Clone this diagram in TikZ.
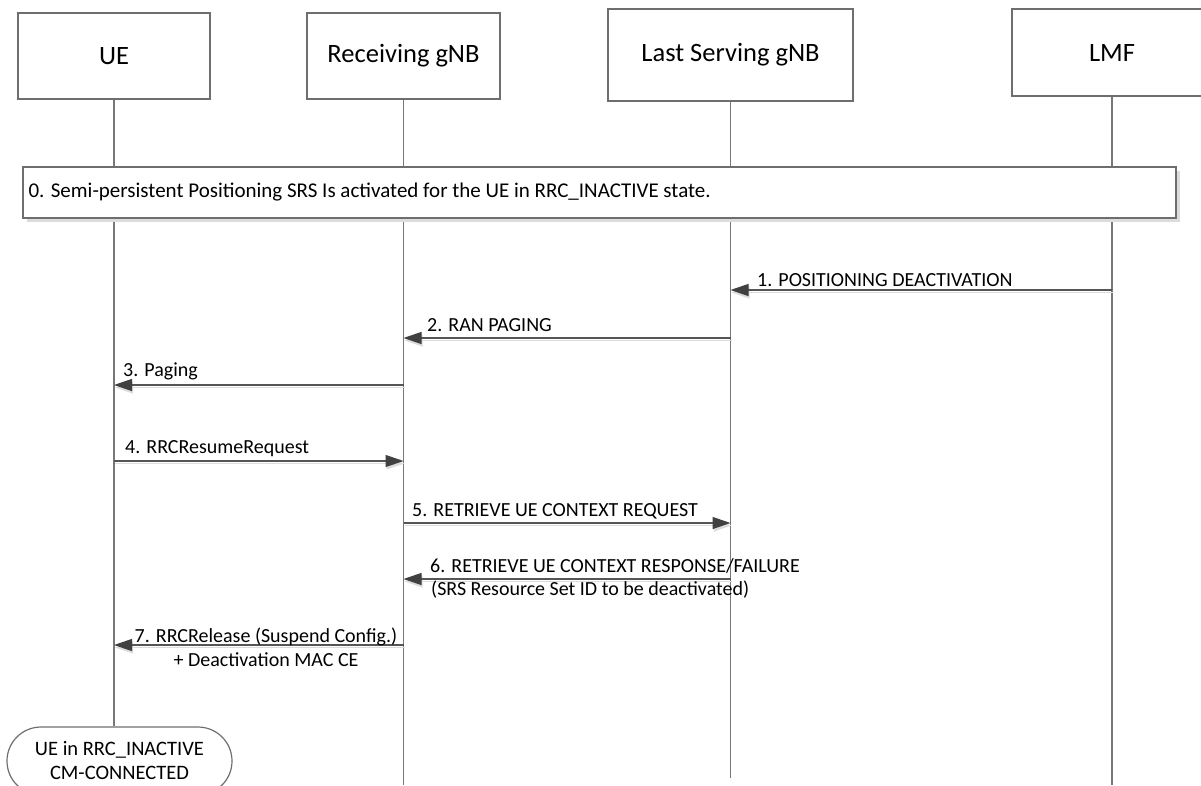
\documentclass[tikz,border=0pt]{standalone}
\usepackage{fontspec}
\setmainfont{Carlito}
\usetikzlibrary{arrows.meta,shapes.misc}
\definecolor{boxline}{HTML}{6E6E6E}
\definecolor{lifec}{HTML}{777777}
\definecolor{msgc}{HTML}{555555}
\definecolor{tipc}{HTML}{404040}
\definecolor{shadowc}{HTML}{DCDCDC}
\begin{document}
\begin{tikzpicture}[x=1pt,y=-1pt,
  every node/.style={font=\fontsize{20}{24}\selectfont, inner sep=0pt},
  entity/.style={draw=boxline, line width=1.2pt, fill=white, font=\fontsize{26.5}{32}\selectfont},
  lifeline/.style={draw=lifec, line width=1.2pt},
  stepbox/.style={draw=boxline, line width=1.2pt, fill=white, minimum width=1153pt, minimum height=51pt},
  msg/.style={draw=msgc, line width=1.2pt, -{Triangle[length=18pt,width=12pt,color=tipc]},
    preaction={draw=shadowc, line width=1.2pt, -{Triangle[length=18pt,width=12pt,color=shadowc]}, transform canvas={shift={(1pt,-2.5pt)}}}},
  lbl/.style={anchor=base west},
  statebox/.style={draw=boxline, line width=1.2pt, fill=white, rounded rectangle, align=center, font=\fontsize{20.5}{24}\selectfont}
]
\useasboundingbox (0,0) rectangle (1201,785);

% entities
\node[entity, minimum width=192pt, minimum height=86pt] (ue) at (114,56) {UE};
\node[entity, minimum width=193pt, minimum height=86pt] (rg) at (403.5,56) {Receiving gNB};
\node[entity, minimum width=245pt, minimum height=92pt] (lsg) at (730.5,55) {Last Serving gNB};
\node[entity, minimum width=200pt, minimum height=87pt] (lmf) at (1112,52.5) {LMF};

% end points
\coordinate (bot) at (0,785);
\coordinate (lsgEnd) at (731,778);
\node[statebox, minimum width=225pt, minimum height=68pt] (uestate) at (119.5,761) {UE in RRC\_INACTIVE\\CM-CONNECTED};

% lifelines
\draw[lifeline] (ue.south) -- (ue |- uestate.north);
\draw[lifeline] (rg.south) -- (rg |- bot);
\draw[lifeline] (lsg.south) -- (lsg |- lsgEnd);
\draw[lifeline] (lmf.south) -- (lmf |- bot);

% step 0
\fill[shadowc] (27,171) rectangle (1180,222);
\node[stepbox] (s0) at (599.5,192.5) {};
\node[anchor=west, font=\fontsize{21}{25}\selectfont] (s0text) at ([xshift=6pt]s0.west) {0. Semi-persistent Positioning SRS Is activated for the UE in RRC\_INACTIVE state.};

% rows
\coordinate (r1) at (0,290);
\coordinate (r2) at (0,338);
\coordinate (r3) at (0,385);
\coordinate (r4) at (0,461);
\coordinate (r5) at (0,523);
\coordinate (r6) at (0,579);
\coordinate (r7) at (0,645);

\draw[msg] (lmf |- r1) -- (lsg |- r1);
\draw[msg] (lsg |- r2) -- (rg |- r2);
\draw[msg] (rg |- r3) -- (ue |- r3);
\draw[msg] (ue |- r4) -- (rg |- r4);
\draw[msg] (rg |- r5) -- (lsg |- r5);
\draw[msg] (lsg |- r6) -- (rg |- r6);
\draw[msg] (rg |- r7) -- (ue |- r7);

% labels
\node[lbl] (l1) at (757,286) {1. POSITIONING DEACTIVATION};
\node[lbl] (l2) at (427,331) {2. RAN PAGING};
\node[lbl] (l3) at (123,376) {3. Paging};
\node[lbl] (l4) at (125,453) {4. RRCResumeRequest};
\node[lbl] (l5) at (412,516) {5. RETRIEVE UE CONTEXT REQUEST};
\node[lbl] (l6a) at (430,572) {6. RETRIEVE UE CONTEXT RESPONSE/FAILURE};
\node[lbl] (l6b) at (431,595) {(SRS Resource Set ID to be deactivated)};
\node[anchor=base] (l7a) at (266,642) {7. RRCRelease (Suspend Config.)};
\node[anchor=base] (l7b) at (266,666) {+ Deactivation MAC CE};
\end{tikzpicture}
\end{document}
